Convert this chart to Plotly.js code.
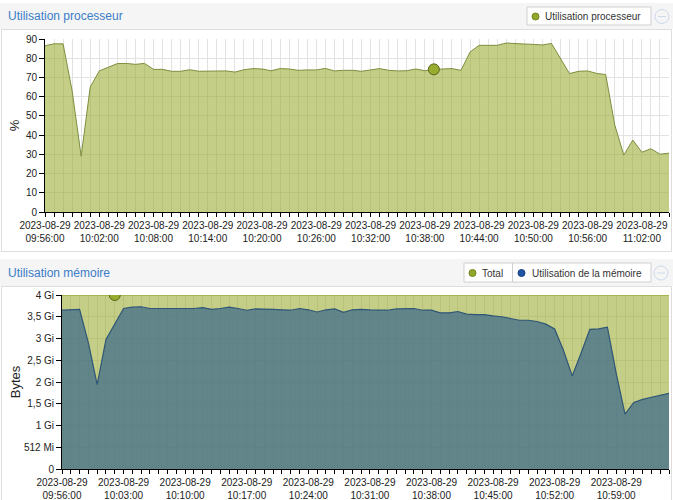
<!DOCTYPE html>
<html>
<head>
<meta charset="utf-8">
<script src="https://cdn.plot.ly/plotly-3.0.1.min.js"></script>
<style>
  body { margin:0; background:#fff; width:673px; height:500px; overflow:hidden; position:relative; font-family:"Liberation Sans", Arial, sans-serif; }
  .hdr { position:absolute; left:0; width:673px; background:#f5f5f5; }
  .box { position:absolute; left:1px; width:671px; box-sizing:border-box; border:1px solid #dedede; background:#fff; }
  .plt { position:absolute; left:0; width:673px; }
</style>
</head>
<body>
<div class="hdr" style="top:3px;height:26px;"></div>
<div class="box" style="top:29px;height:223px;"></div>
<div class="hdr" style="top:259px;height:27px;"></div>
<div class="box" style="top:286px;height:216px;"></div>
<div id="cpuChart" class="plt" style="top:0;height:252px;"></div>
<div id="memChart" class="plt" style="top:256px;height:244px;"></div>
<script>
// ---- data ----
const day = "2023-08-29";
const times = [
 "09:56","09:57","09:58","09:59",
 "10:00","10:01","10:02","10:03","10:04","10:05","10:06","10:07","10:08","10:09",
 "10:10","10:11","10:12","10:13","10:14","10:15","10:16","10:17","10:18","10:19",
 "10:20","10:21","10:22","10:23","10:24","10:25","10:26","10:27","10:28","10:29",
 "10:30","10:31","10:32","10:33","10:34","10:35","10:36","10:37","10:38","10:39",
 "10:40","10:41","10:42","10:43","10:44","10:45","10:46","10:47","10:48","10:49",
 "10:50","10:51","10:52","10:53","10:54","10:55","10:56","10:57","10:58","10:59",
 "11:00","11:01","11:02","11:03","11:04","11:05"
];
const cpuUsage = [
 86.5,87.5,87.5,63,29,65,73.4,75.3,77.2,77.3,
 76.8,77.3,74.2,74.2,73.2,73.2,74,73.2,73.2,73.4,
 73.4,72.8,74,74.6,74.4,73.5,74.6,74.4,73.7,73.9,
 73.9,74.7,73.4,73.7,73.7,73.2,74,74.6,73.7,73.4,
 73.5,74.4,73.5,74.2,74.4,74.6,73.7,83.2,86.7,86.7,
 86.7,87.9,87.5,87.4,87.2,86.9,87.7,80,72,73.2,
 73.4,72.1,71.5,45.3,29.6,37.4,31.1,32.9,30.1,30.6
];
// memory in GiB
const memTotal = [
 4,4,4,4,4,4,4,4,4,4, 4,4,4,4,4,4,4,4,4,4,
 4,4,4,4,4,4,4,4,4,4, 4,4,4,4,4,4,4,4,4,4,
 4,4,4,4,4,4,4,4,4,4, 4,4,4,4,4,4,4,4,4,4,
 4,4,4,4,4,4,4,4,4,4
];
const memUsed = [
 3.65,3.66,3.67,2.9,1.94,2.98,3.33,3.69,3.72,3.73,
 3.69,3.69,3.69,3.69,3.69,3.69,3.71,3.67,3.69,3.72,
 3.69,3.65,3.68,3.68,3.67,3.66,3.65,3.69,3.66,3.61,
 3.66,3.68,3.60,3.66,3.67,3.66,3.66,3.65,3.68,3.69,
 3.69,3.65,3.65,3.59,3.59,3.62,3.56,3.55,3.55,3.52,
 3.50,3.46,3.42,3.42,3.39,3.33,3.22,2.73,2.14,2.66,
 3.21,3.22,3.26,2.20,1.26,1.53,1.60,1.65,1.69,1.74
];
const memTickVals = [0,0.5,1,1.5,2,2.5,3,3.5,4];
const memTickText = ["0","512 Mi","1 Gi","1,5 Gi","2 Gi","2,5 Gi","3 Gi","3,5 Gi","4 Gi"];
const cpuFocus = 43;
const memFocus = 6;

// ---- helpers ----
const X = times.map(t => day + " " + t + ":00");
const FONT = '"Liberation Sans", Arial, sans-serif';
const GRID = '#e2e2e2';
function pc(L, T, W, H) { return { x: p => (p - L) / W, y: p => 1 - (p - T) / H }; }

function xaxis(stepMin) {
  return {
    type:'date', range:[X[0], X[X.length-1]], tick0:X[0], dtick:stepMin*60000,
    tickformat:'%Y-%m-%d<br>%H:%M:%S', ticks:'outside', ticklen:4, tickcolor:'#000',
    showline:true, linecolor:'#000', linewidth:1, showgrid:true, gridcolor:GRID, gridwidth:1,
    tickfont:{size:10, color:'#222', family:FONT}, zeroline:false, fixedrange:true,
    minor:{tick0:X[0], dtick:60000, ticks:'outside', ticklen:4, tickcolor:'#000', showgrid:true, gridcolor:GRID, gridwidth:1}
  };
}
function legendShapes(c, boxL, boxR, top, bot, divs, dots, minusX, minusY) {
  const s = [{type:'rect', xref:'paper', yref:'paper', x0:c.x(boxL), x1:c.x(boxR), y0:c.y(bot), y1:c.y(top),
              line:{color:'#cfcfcf', width:1}, fillcolor:'#fff', layer:'above'}];
  divs.forEach(d => s.push({type:'line', xref:'paper', yref:'paper', x0:c.x(d), x1:c.x(d), y0:c.y(bot), y1:c.y(top), line:{color:'#cfcfcf', width:1}}));
  dots.forEach(d => s.push({type:'circle', xref:'paper', yref:'paper', x0:c.x(d.x-3.5), x1:c.x(d.x+3.5), y0:c.y(d.y+3.5), y1:c.y(d.y-3.5),
              line:{color:d.line, width:1}, fillcolor:d.color}));
  s.push({type:'circle', xref:'paper', yref:'paper', x0:c.x(minusX-7), x1:c.x(minusX+7), y0:c.y(minusY+7), y1:c.y(minusY-7), line:{color:'#cdd9ec', width:1}, fillcolor:'rgba(0,0,0,0)'});
  s.push({type:'line', xref:'paper', yref:'paper', x0:c.x(minusX-4), x1:c.x(minusX+4), y0:c.y(minusY), y1:c.y(minusY), line:{color:'#cdd9ec', width:1}});
  return s;
}
function legendText(c, items) {
  return items.map(it => ({text:it.t, xref:'paper', yref:'paper', x:c.x(it.x), y:c.y(it.y), xanchor:'left', yanchor:'middle',
     showarrow:false, font:{size:10, color:'#333', family:FONT}}));
}
const greenFill = 'rgba(157,173,53,0.6)';
const config = {displayModeBar:false, staticPlot:true};

// ---- CPU chart ----
(function(){
  const H = 252, L = 45, T = 39, B = 40, W = 673 - L - 4, PH = H - T - B;
  const c = pc(L, T, W, PH);
  const traces = [
    {x:X, y:cpuUsage, type:'scatter', mode:'lines', fill:'tozeroy', fillcolor:greenFill,
     line:{color:'#7d8f3e', width:1}, name:'Utilisation processeur', showlegend:false},
    {x:[X[cpuFocus]], y:[cpuUsage[cpuFocus]], type:'scatter', mode:'markers',
     marker:{size:11, color:'#98ad30', line:{color:'#56661a', width:1}}, showlegend:false}
  ];
  const layout = {
    width:673, height:H, margin:{l:L, r:4, t:T, b:B},
    paper_bgcolor:'rgba(0,0,0,0)', plot_bgcolor:'rgba(0,0,0,0)',
    font:{family:FONT, color:'#222'},
    title:{text:'Utilisation processeur', font:{size:12, color:'#3a7cc8', family:FONT},
           xref:'container', yref:'container', x:8/673, xanchor:'left', y:1-16/H, yanchor:'middle'},
    xaxis:xaxis(6),
    yaxis:{range:[0,90], dtick:10, ticks:'outside', ticklen:5, tickcolor:'#000', showline:true, linecolor:'#000',
           showgrid:true, gridcolor:GRID, zeroline:false, fixedrange:true,
           tickfont:{size:10, color:'#222', family:FONT}, title:{text:'%', font:{size:13, color:'#222', family:FONT}, standoff:3}},
    shapes:legendShapes(c, 527, 651, 7, 25, [], [{x:535.5, y:16.5, color:'#8fa82c', line:'#71871c'}], 662, 16.5),
    annotations:legendText(c, [{t:'Utilisation processeur', x:543, y:16.5}])
  };
  Plotly.newPlot('cpuChart', traces, layout, config);
})();

// ---- Memory chart ----
(function(){
  const H = 244, L = 62, T = 39, B = 31, W = 673 - L - 4, PH = H - T - B;
  const c = pc(L, T, W, PH);
  const off = 256;
  const traces = [
    {x:X, y:memTotal, type:'scatter', mode:'lines', fill:'tozeroy', fillcolor:greenFill,
     line:{color:'#9aae3c', width:1.5}, name:'Total', showlegend:false},
    {x:X, y:memUsed, type:'scatter', mode:'lines', fill:'tozeroy', fillcolor:'rgba(59,106,140,0.72)',
     line:{color:'#2f5676', width:1.2}, name:'Utilisation de la mémoire', showlegend:false},
    {x:[X[memFocus]], y:[memTotal[memFocus]], type:'scatter', mode:'markers',
     marker:{size:11, color:'#98ad30', line:{color:'#56661a', width:1}}, showlegend:false}
  ];
  const layout = {
    width:673, height:H, margin:{l:L, r:4, t:T, b:B},
    paper_bgcolor:'rgba(0,0,0,0)', plot_bgcolor:'rgba(0,0,0,0)',
    font:{family:FONT, color:'#222'},
    title:{text:'Utilisation mémoire', font:{size:12, color:'#3a7cc8', family:FONT},
           xref:'container', yref:'container', x:8/673, xanchor:'left', y:1-16.5/H, yanchor:'middle'},
    xaxis:xaxis(7),
    yaxis:{range:[0,4], tickvals:memTickVals, ticktext:memTickText, ticks:'outside', ticklen:5, tickcolor:'#000',
           showline:true, linecolor:'#000', showgrid:true, gridcolor:GRID, zeroline:false, fixedrange:true,
           tickfont:{size:10, color:'#222', family:FONT}, title:{text:'Bytes', font:{size:13, color:'#222', family:FONT}, standoff:0}},
    shapes:legendShapes(c, 464, 651, 263-off, 282-off, [512.5],
      [{x:472.5, y:273-off, color:'#8fa82c', line:'#71871c'}, {x:521.5, y:273-off, color:'#1f55a5', line:'#173f7d'}], 661, 273-off),
    annotations:legendText(c, [{t:'Total', x:480, y:273-off}, {t:'Utilisation de la mémoire', x:530, y:273-off}])
  };
  Plotly.newPlot('memChart', traces, layout, config);
})();
</script>
</body>
</html>
